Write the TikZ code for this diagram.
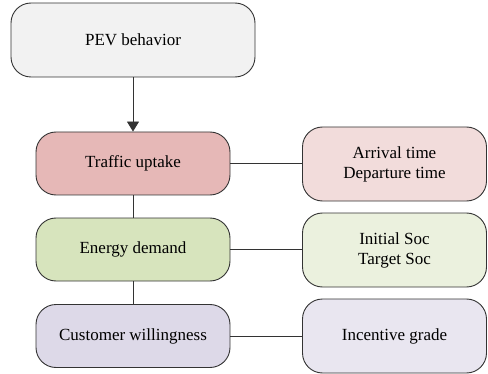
\documentclass[tikz,border=0pt]{standalone}
\usepackage{fontspec}
\setmainfont{Liberation Serif}
\usetikzlibrary{arrows.meta}
\definecolor{cpev}{HTML}{F2F2F2}
\definecolor{ctraf}{HTML}{E6B8B7}
\definecolor{cener}{HTML}{D7E4BD}
\definecolor{ccust}{HTML}{DDD9E8}
\definecolor{ctrafl}{HTML}{F2DCDB}
\definecolor{cenerl}{HTML}{EBF1DE}
\definecolor{ccustl}{HTML}{E9E6F0}
\definecolor{cline}{HTML}{333333}
\tikzset{
  box/.style={draw=cline, line width=0.9pt, rounded corners=20pt, align=center,
    font=\fontsize{17}{20}\selectfont, inner sep=0pt},
  lbox/.style={box, minimum width=194pt, minimum height=63pt},
  rbox/.style={box, minimum width=184pt, minimum height=74pt},
  conn/.style={draw=cline, line width=0.9pt},
}
\begin{document}
\begin{tikzpicture}[x=1pt,y=1pt]
\useasboundingbox (0,0) rectangle (488,373);
\node[box, fill=cpev, minimum width=244pt, minimum height=74pt] (pev) at (133,333) {PEV behavior};
\node[lbox, fill=ctraf] (traf) at (133,209.5) {Traffic uptake};
\node[lbox, fill=cener] (ener) at (133,123.5) {Energy demand};
\node[lbox, fill=ccust] (cust) at (133,37) {Customer willingness};
\node[rbox, fill=ctrafl] (trafr) at (394.5,209) {Arrival time\\Departure time};
\node[rbox, fill=cenerl] (enerr) at (394.5,123) {Initial Soc\\Target Soc};
\node[rbox, fill=ccustl] (custr) at (394.5,37) {Incentive grade};
\draw[conn, -{Triangle[length=10pt,width=12pt]}] (pev) -- (traf);
\draw[conn] (traf) -- (ener);
\draw[conn] (ener) -- (cust);
\draw[conn] (traf.east) -- (traf.east -| trafr.west);
\draw[conn] (ener.east) -- (ener.east -| enerr.west);
\draw[conn] (cust.east) -- (cust.east -| custr.west);
\end{tikzpicture}
\end{document}
